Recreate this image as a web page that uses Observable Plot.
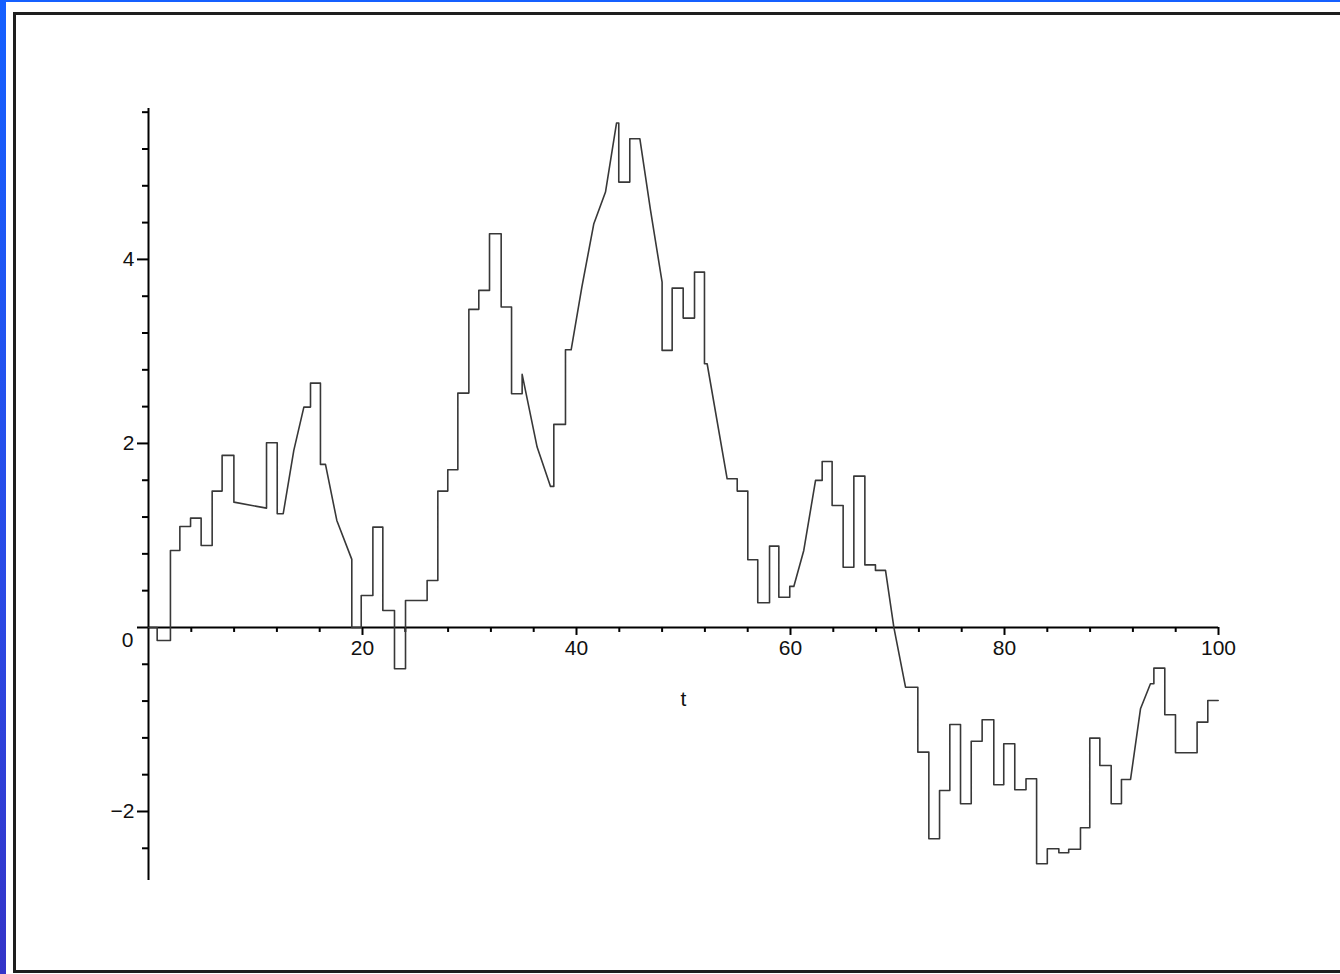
<!DOCTYPE html>
<html>
<head>
<meta charset="utf-8">
<script src="https://cdn.jsdelivr.net/npm/d3@7"></script>
<script src="https://cdn.jsdelivr.net/npm/@observablehq/plot@0.6"></script>
<style>
  html, body { margin: 0; padding: 0; }
  body {
    width: 1340px; height: 974px; position: relative; overflow: hidden;
    background: linear-gradient(to bottom, #1560ff 0%, #2a4ae6 60%, #3434c8 100%);
  }
  #paper { position: absolute; left: 6px; top: 2px; right: 0; bottom: 0; background: #fff; }
  #frame { position: absolute; left: 13px; top: 12px; width: 1340px; height: 955px; border: 3px solid #1e1e1e; border-right: none; }
  #chart { position: absolute; left: 0; top: 0; }
</style>
</head>
<body>
<div id="paper"></div>
<div id="frame"></div>
<div id="chart"></div>
<script>
// Sample path vertices (t, value)
const tValues = [
  0, 0.81, 0.81, 2.05, 2.05, 2.93, 2.93, 3.93, 3.93, 4.92, 4.92, 5.95, 5.95, 6.88, 6.88, 7.98, 7.98,
  11.03, 11.03, 12.03, 12.03, 12.59, 13.58, 14.52, 15.14, 15.14, 16.07, 16.07, 16.54, 17.6, 19.0, 19.0,
  19.88, 19.88, 20.97, 20.97, 21.9, 21.9, 22.99, 22.99, 24.02, 24.02, 26.04, 26.04, 27.04, 27.04,
  27.97, 27.97, 28.91, 28.91, 29.94, 29.94, 30.87, 30.87, 31.87, 31.87, 32.96, 32.96, 33.93, 33.93,
  34.92, 34.92, 36.32, 37.57, 37.88, 37.88, 38.97, 38.97, 39.5, 40.5, 41.62, 42.71, 43.74, 43.95,
  43.95, 44.98, 44.98, 45.92, 46.92, 48.0, 48.0, 48.94, 48.94, 49.97, 49.97, 51.03, 51.03, 51.96,
  51.96, 52.21, 54.08, 55.02, 55.02, 56.01, 56.01, 56.94, 56.94, 58.04, 58.04, 58.91, 58.91, 59.93,
  59.93, 60.31, 61.24, 62.34, 62.96, 62.96, 63.89, 63.89, 64.92, 64.92, 65.92, 65.92, 66.95, 66.95,
  67.94, 67.94, 68.88, 69.66, 70.75, 71.9, 71.9, 72.93, 72.93, 73.93, 73.93, 74.89, 74.89, 75.89,
  75.89, 76.89, 76.89, 77.91, 77.91, 79.0, 79.0, 79.93, 79.93, 80.96, 80.96, 82.01, 82.01, 83.0,
  83.0, 84.0, 84.0, 85.08, 85.08, 86.0, 86.0, 87.1, 87.1, 87.97, 87.97, 88.91, 88.91, 89.97, 89.97,
  90.93, 90.93, 91.78, 92.71, 93.64, 93.96, 93.96, 94.98, 94.98, 95.98, 95.98, 98.0, 98.0, 99.0,
  99.0, 99.97
];
const yValues = [
  0, 0, -0.141, -0.141, 0.837, 0.837, 1.098, 1.098, 1.188, 1.188, 0.891, 0.891, 1.482, 1.482, 1.87, 1.87, 1.362,
  1.297, 2.008, 2.008, 1.236, 1.236, 1.924, 2.395, 2.395, 2.655, 2.655, 1.772, 1.772, 1.163, 0.74, 0,
  0, 0.348, 0.348, 1.09, 1.09, 0.185, 0.185, -0.449, -0.449, 0.293, 0.293, 0.511, 0.511, 1.482,
  1.482, 1.714, 1.714, 2.547, 2.547, 3.457, 3.457, 3.663, 3.663, 4.279, 4.279, 3.482, 3.482, 2.54,
  2.54, 2.75, 1.96, 1.533, 1.533, 2.207, 2.207, 3.018, 3.018, 3.699, 4.388, 4.732, 5.482, 5.482,
  4.84, 4.84, 5.312, 5.312, 4.533, 3.753, 3.011, 3.011, 3.688, 3.688, 3.362, 3.362, 3.862, 3.862,
  2.866, 2.866, 1.616, 1.616, 1.482, 1.482, 0.736, 0.736, 0.268, 0.268, 0.884, 0.884, 0.329, 0.329,
  0.446, 0.446, 0.837, 1.598, 1.598, 1.804, 1.804, 1.326, 1.326, 0.655, 0.655, 1.645, 1.645, 0.68,
  0.68, 0.62, 0.62, 0, -0.649, -0.649, -1.355, -1.355, -2.297, -2.297, -1.772, -1.772, -1.054, -1.054,
  -1.916, -1.916, -1.236, -1.236, -1.003, -1.003, -1.71, -1.71, -1.264, -1.264, -1.764, -1.764, -1.645, -1.645,
  -2.568, -2.568, -2.405, -2.405, -2.449, -2.449, -2.41, -2.41, -2.177, -2.177, -1.203, -1.203, -1.5, -1.5,
  -1.916, -1.916, -1.652, -1.652, -0.884, -0.612, -0.612, -0.442, -0.442, -0.949, -0.949, -1.362, -1.362, -1.029,
  -1.029, -0.793, -0.793
];

// Axis ticks and labels
const xMajorTicks = [20, 40, 60, 80, 100];
const xTickLabels = ["20", "40", "60", "80", "100"];
const xMinorTicks = [4, 8, 12, 16, 24, 28, 32, 36, 44, 48, 52, 56, 64, 68, 72, 76, 84, 88, 92, 96];
const yMajorTicks = [-2, 2, 4];
const yTickLabels = ["\u22122", "2", "4"];
const yZeroLabel = ["0"];
const yMinorTicks = [-2.4, -1.6, -1.2, -0.8, -0.4, 0.4, 0.8, 1.2, 1.6, 2.4, 2.8, 3.2, 3.6, 4.4, 4.8, 5.2, 5.6];
const xAxisLabel = ["t"];

const xDomain = [0, 100];
const yDomain = [-2.75, 5.64];

const path = tValues.map((t, i) => ({t, v: yValues[i]}));

const pxX = (100 - 0) / (1218 - 148);   // data units per px in x
const pxY = (5.64 + 2.75) / (880 - 108); // data units per px in y
const font = "'Liberation Sans', Arial, Helvetica, sans-serif";

const chart = Plot.plot({
  width: 1340,
  height: 974,
  marginLeft: 148,
  marginRight: 122,
  marginTop: 108,
  marginBottom: 94,
  x: {domain: xDomain, axis: null},
  y: {domain: yDomain, axis: null},
  style: {background: "transparent", overflow: "visible", fontFamily: font},
  marks: [
    // x axis line (extends left as the y=0 major tick)
    Plot.ruleY([0], {x1: -11 * pxX, x2: 100, stroke: "#000", strokeWidth: 2}),
    // y axis line
    Plot.ruleX([0], {y1: yDomain[0], y2: yDomain[1], stroke: "#000", strokeWidth: 2}),
    // x ticks
    Plot.ruleX(xMinorTicks, {x: d => d, y1: 0, y2: -5 * pxY, stroke: "#000", strokeWidth: 2}),
    Plot.ruleX(xMajorTicks, {x: d => d, y1: 0, y2: -8 * pxY, stroke: "#000", strokeWidth: 2}),
    // y ticks
    Plot.ruleY(yMinorTicks, {y: d => d, x1: 0, x2: -6 * pxX, stroke: "#000", strokeWidth: 2}),
    Plot.ruleY(yMajorTicks, {y: d => d, x1: 0, x2: -11 * pxX, stroke: "#000", strokeWidth: 2}),
    // tick labels
    Plot.text(xMajorTicks, {x: d => d, y: 0, text: (d, i) => xTickLabels[i], dy: 21, fontSize: 21, fill: "#111", fontFamily: font}),
    Plot.text(yMajorTicks, {x: 0, y: d => d, text: (d, i) => yTickLabels[i], dx: -14, textAnchor: "end", fontSize: 21, fill: "#111", fontFamily: font}),
    Plot.text(yZeroLabel, {x: 0, y: 0, text: d => d, dx: -15, dy: 13, textAnchor: "end", fontSize: 21, fill: "#111", fontFamily: font}),
    Plot.text(xAxisLabel, {x: 50, y: 0, text: d => d, dy: 72, fontSize: 21, fill: "#111", fontFamily: font}),
    // sample path
    Plot.line(path, {x: "t", y: "v", stroke: "#383838", strokeWidth: 1.6, curve: "linear"})
  ]
});
document.getElementById("chart").append(chart);
</script>
</body>
</html>
